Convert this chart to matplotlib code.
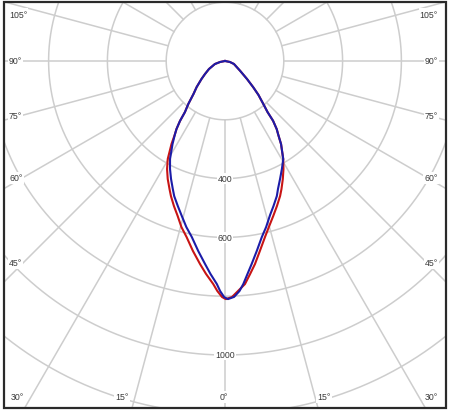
import numpy as np
import matplotlib
matplotlib.use("Agg")
import matplotlib.pyplot as plt
from matplotlib.patches import Rectangle

# ---------------- data (cd/klm vs angle from nadir; + = right half) ----------------
blue_angles = [-90, -78.7, -73.3, -63.4, -57.0, -52.5, -47.4, -43.7, -40.5, -38.1, -36.9,
               -35.5, -34.4, -32.3, -29.3, -27.0, -24.6, -22.2, -20.6, -18.0, -15.6, -13.1,
               -10.7, -8.0, -5.6, -3.9, -2.1, -1.2, -0.2, 0.7, 2.2, 3.6, 4.7, 6.0, 7.5, 9.5,
               11.8, 13.9, 16.3, 18.5, 21.0, 22.5, 25.0, 27.8, 30.7, 34.0, 35.8, 37.2, 38.8,
               39.8, 41.7, 44.6, 47.1, 50.7, 57.1, 71.6, 78.7, 90]
blue_values = [0, 17, 36, 61, 81, 101, 131, 155, 192, 221, 255,
               284, 301, 334, 382, 412, 441, 470, 491, 519, 547, 580,
               609, 653, 694, 726, 759, 783, 803, 810, 803, 784, 761, 729, 696, 655,
               612, 582, 546, 520, 492, 471, 443, 415, 388, 341, 310, 291, 261,
               226, 196, 162, 131, 97, 61, 32, 17, 0]

red_angles = [-90, -78.7, -73.3, -63.4, -57.0, -52.5, -47.4, -43.7, -40.5, -38.1, -36.9,
              -35.5, -34.4, -32.8, -30.3, -28.2, -25.9, -23.4, -21.8, -19.4, -17.0, -14.7,
              -12.3, -9.6, -7.0, -5.1, -3.0, -1.9, -0.7, 0.2, 1.7, 3.2, 5.1, 6.7, 8.4, 10.4,
              12.8, 14.8, 17.3, 19.7, 22.2, 23.8, 26.1, 28.4, 30.7, 34.0, 35.8, 37.2, 38.8,
              39.8, 41.7, 44.6, 47.1, 50.7, 57.1, 71.6, 78.7, 90]
red_values = [0, 17, 36, 61, 81, 101, 131, 155, 192, 221, 255,
              284, 301, 336, 386, 417, 446, 475, 495, 523, 551, 584,
              613, 655, 696, 727, 760, 783, 803, 810, 803, 784, 762, 730, 698, 657,
              614, 584, 552, 524, 496, 476, 447, 418, 388, 341, 310, 291, 261,
              226, 196, 162, 131, 97, 61, 32, 17, 0]

ring_values = [200, 400, 600, 800, 1000, 1200, 1400]
ring_labels = [400, 600, 1000]
spoke_angles = list(range(0, 360, 15))
side_labels = ["105°", "90°", "75°", "60°", "45°"]
bottom_labels = ["30°", "15°", "0°", "15°", "30°"]

# ---------------- layout ----------------
W, H = 449, 414
side_label_y = [15, 62, 117, 179, 264]
bottom_label_x = [17, 122, 224, 324, 431]
bottom_label_y = 398
cx, cy = 225.0, 62.0          # polar origin in pixels (from top-left)
scale = 0.294                 # pixels per unit
rmax = 1500
R = rmax * scale

grid_color = "#cdcdcd"
text_color = "#3a3a3a"
font = ["Liberation Sans", "DejaVu Sans"]

fig = plt.figure(figsize=(W / 100, H / 100), dpi=100)
fig.patch.set_facecolor("white")

ax = fig.add_axes([(cx - R) / W, (H - cy - R) / H, 2 * R / W, 2 * R / H],
                  projection="polar")
ax.set_theta_zero_location("S")
ax.set_ylim(0, rmax)
ax.set_axis_off()

clip = Rectangle((4 / W, 5 / H), 442 / W, 406 / H, transform=fig.transFigure)

# rings
th = np.linspace(0, 2 * np.pi, 1441)
for v in ring_values:
    ln, = ax.plot(th, np.full_like(th, v), color=grid_color, lw=1.1, zorder=1)
    ln.set_clip_path(clip)

# spokes (start at the 200 ring)
for a in spoke_angles:
    ln, = ax.plot([np.deg2rad(a)] * 2, [ring_values[0], rmax],
                  color=grid_color, lw=1.1, zorder=1)
    ln.set_clip_path(clip)

# ring labels on the nadir spoke
for v in ring_labels:
    ax.text(0, v, str(v), ha="center", va="center", fontsize=6.3, color=text_color,
            family=font, zorder=2,
            bbox=dict(fc="white", ec="none", pad=0.6))

# curves
ln_r, = ax.plot(np.deg2rad(red_angles), red_values, color="#c81414", lw=1.5,
                zorder=3, solid_joinstyle="round")
ln_b, = ax.plot(np.deg2rad(blue_angles), blue_values, color="#1c1ca8", lw=1.5,
                zorder=4, solid_joinstyle="round")
for ln in (ln_r, ln_b):
    ln.set_clip_path(clip)

# angle labels
for lab, y in zip(side_labels, side_label_y):
    fig.text(9 / W, 1 - y / H, lab, ha="left", va="center", fontsize=6.3,
             color=text_color, family=font,
             bbox=dict(fc="white", ec="none", pad=0.8))
    fig.text(438 / W, 1 - y / H, lab, ha="right", va="center", fontsize=6.3,
             color=text_color, family=font,
             bbox=dict(fc="white", ec="none", pad=0.8))
for lab, x in zip(bottom_labels, bottom_label_x):
    fig.text(x / W, 1 - bottom_label_y / H, lab, ha="center", va="center",
             fontsize=6.3, color=text_color, family=font,
             bbox=dict(fc="white", ec="none", pad=0.8))

# frame
fig.add_artist(Rectangle((4 / W, 5 / H), 442 / W, 406 / H, transform=fig.transFigure,
                         fill=False, ec="#2a2a2a", lw=1.6, zorder=10))

fig.savefig("out.png", dpi=100, facecolor="white")
